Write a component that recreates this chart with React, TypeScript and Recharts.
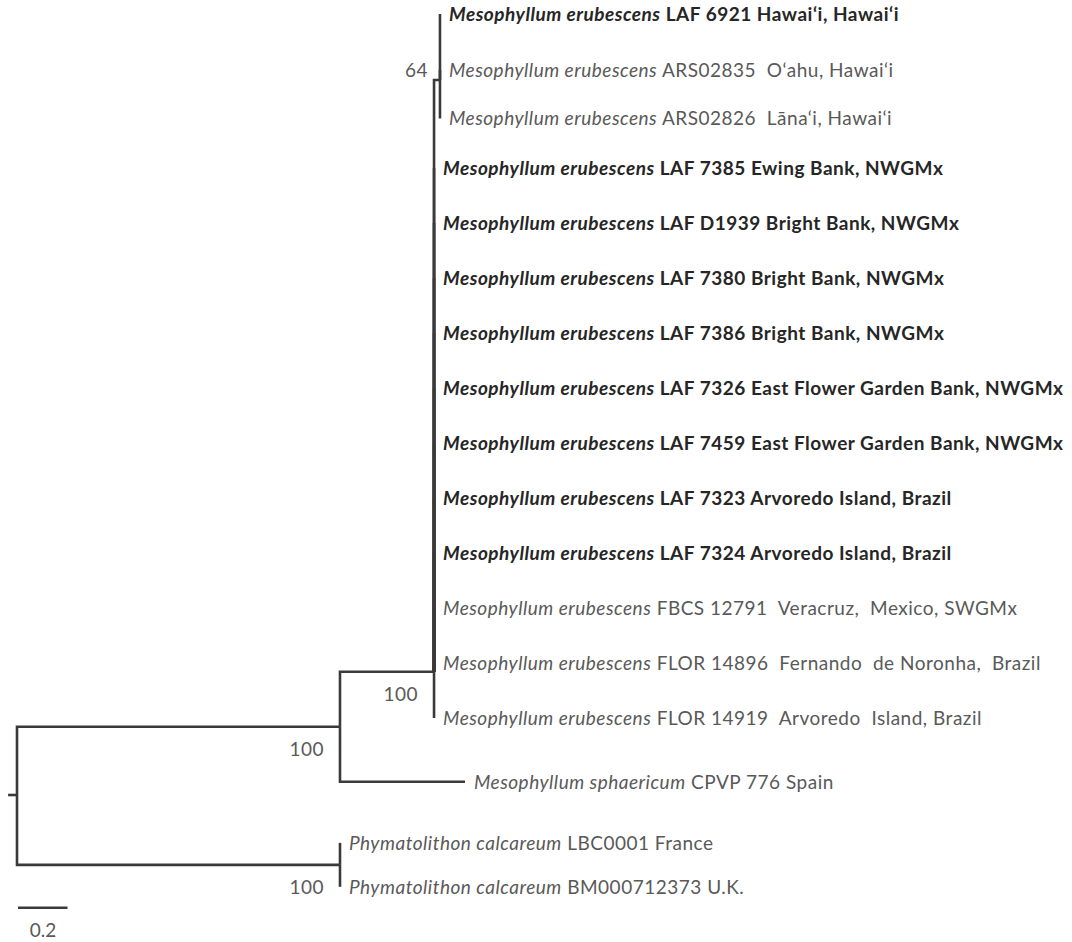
import { ComposedChart, Scatter, XAxis, YAxis } from "recharts";

// tree taxa, top to bottom
const species = [
  "Mesophyllum erubescens",
  "Mesophyllum erubescens",
  "Mesophyllum erubescens",
  "Mesophyllum erubescens",
  "Mesophyllum erubescens",
  "Mesophyllum erubescens",
  "Mesophyllum erubescens",
  "Mesophyllum erubescens",
  "Mesophyllum erubescens",
  "Mesophyllum erubescens",
  "Mesophyllum erubescens",
  "Mesophyllum erubescens",
  "Mesophyllum erubescens",
  "Mesophyllum erubescens",
  "Mesophyllum sphaericum",
  "Phymatolithon calcareum",
  "Phymatolithon calcareum",
];

const vouchers = [
  "LAF 6921 Hawai‘i, Hawai‘i",
  "ARS02835  O‘ahu, Hawai‘i",
  "ARS02826  Lāna‘i, Hawai‘i",
  "LAF 7385 Ewing Bank, NWGMx",
  "LAF D1939 Bright Bank, NWGMx",
  "LAF 7380 Bright Bank, NWGMx",
  "LAF 7386 Bright Bank, NWGMx",
  "LAF 7326 East Flower Garden Bank, NWGMx",
  "LAF 7459 East Flower Garden Bank, NWGMx",
  "LAF 7323 Arvoredo Island, Brazil",
  "LAF 7324 Arvoredo Island, Brazil",
  "FBCS 12791  Veracruz,  Mexico, SWGMx",
  "FLOR 14896  Fernando  de Noronha,  Brazil",
  "FLOR 14919  Arvoredo  Island, Brazil",
  "CPVP 776 Spain",
  "LBC0001 France",
  "BM000712373 U.K.",
];

const newSequence = [
  true, false, false, true, true, true, true, true, true, true, true,
  false, false, false, false, false, false,
];

const tipParent = [
  "hawaii", "hawaii", "hawaii",
  "erub", "erub", "erub", "erub", "erub", "erub", "erub", "erub",
  "erub", "erub", "erub",
  "meso", "phym", "phym",
];

const tipBranch = [0, 0, 0, 0, 0, 0, 0, 0, 0, 0, 0, 0, 0, 0, 0.505, 0, 0];

// vertical position of each taxon, in rows
const tipRow = [0.2, 1.22, 2.1, 3, 4, 5, 6, 7, 8, 9, 10, 11, 12, 13, 14.16, 15.27, 16.07];

// internal nodes
const nodeIds = ["root", "meso", "erub", "hawaii", "phym"];
const nodeParent = [null, "root", "meso", "erub", "root"];
const nodeBranch = [0, 1.305, 0.38, 0.024, 1.305];
const nodeRow = [14.4, 13.16, 12.16, 1.4, 15.67];
const nodeSupport = [null, 100, 100, 64, 100];

const scaleLength = 0.2;
const scaleRow = 16.45;

const ROW_PX = 55;
const TOP_PX = 3;
const UNIT_PX = 247.5;
const LEFT_PX = 17;
const W = 1072;
const H = 942;

const lineColor = "#3a3a3a";
const textGray = "#595959";
const textDark = "#262626";
const font = "Lato, 'Open Sans', sans-serif";
const fontSize = 19;

type Node = { id: string; parent: string | null; depth: number; row: number; support: number | null };

const nodes: Record<string, Node> = {};
nodeIds.forEach((id, i) => {
  const p = nodeParent[i];
  nodes[id] = {
    id,
    parent: p,
    depth: (p ? nodes[p].depth : 0) + nodeBranch[i],
    row: nodeRow[i],
    support: nodeSupport[i],
  };
});

const tips = species.map((s, i) => ({
  x: nodes[tipParent[i]].depth + tipBranch[i],
  y: tipRow[i],
  species: s,
  voucher: vouchers[i],
  bold: newSequence[i],
  parent: tipParent[i],
}));

const edges: { x: number; y: number }[][] = [];
const elbow = (p: Node, x: number, y: number) => [
  { x: p.depth, y: p.row },
  { x: p.depth, y },
  { x, y },
];
nodeIds.forEach((id) => {
  const n = nodes[id];
  if (n.parent) edges.push(elbow(nodes[n.parent], n.depth, n.row));
});
tips.forEach((t) => edges.push(elbow(nodes[t.parent], t.x, t.y)));

const rootStub = [
  { x: -0.036, y: nodes.root.row },
  { x: 0, y: nodes.root.row },
];

const supports = nodeIds
  .map((id) => nodes[id])
  .filter((n) => n.support !== null)
  .map((n) => ({ x: n.depth, y: n.row, support: n.support, above: n.id === "hawaii" }));

const scaleBar = [
  { x: 0.004, y: scaleRow },
  { x: 0.004 + scaleLength, y: scaleRow },
];

const xDomain = [-LEFT_PX / UNIT_PX, (W - LEFT_PX) / UNIT_PX];
const yDomain = [-TOP_PX / ROW_PX, (H - TOP_PX) / ROW_PX];

const Nothing = () => <g />;

const TipLabel = (props: any) => {
  const { cx, cy, payload } = props;
  return (
    <text
      x={cx + 9}
      y={cy}
      dy="0.36em"
      fontFamily={font}
      fontSize={fontSize}
      letterSpacing={0.5}
      fontWeight={payload.bold ? 700 : 400}
      fill={payload.bold ? textDark : textGray}
      style={{ whiteSpace: "pre" }}
    >
      <tspan fontStyle="italic">{payload.species}</tspan>
      <tspan>{" " + payload.voucher}</tspan>
    </text>
  );
};

const SupportLabel = (props: any) => {
  const { cx, cy, payload } = props;
  return (
    <text
      x={cx - (payload.above ? 12 : 16)}
      y={cy + (payload.above ? -10 : 22)}
      dy="0.36em"
      textAnchor="end"
      fontFamily={font}
      fontSize={fontSize}
      letterSpacing={0.5}
      fill={textGray}
    >
      {payload.support}
    </text>
  );
};

const ScaleLabel = (props: any) => {
  const { cx, cy, payload } = props;
  if (payload.x > 0.1) return <g />;
  return (
    <text x={cx + 25} y={cy + 22} dy="0.36em" textAnchor="middle" fontFamily={font} fontSize={fontSize} fill={textGray}>
      {scaleLength}
    </text>
  );
};

export default function App() {
  return (
    <div style={{ position: "absolute", left: 0, top: 0, background: "#fff" }}>
      <ComposedChart width={W} height={H} margin={{ top: 0, right: 0, bottom: 0, left: 0 }}>
        <XAxis type="number" dataKey="x" domain={xDomain} allowDataOverflow hide />
        <YAxis type="number" dataKey="y" domain={yDomain} allowDataOverflow reversed hide />
        {edges.map((e, i) => (
          <Scatter
            key={i}
            data={e}
            line={{ stroke: lineColor, strokeWidth: 2.6 }}
            shape={Nothing}
            isAnimationActive={false}
          />
        ))}
        <Scatter data={rootStub} line={{ stroke: lineColor, strokeWidth: 2.6 }} shape={Nothing} isAnimationActive={false} />
        <Scatter data={scaleBar} line={{ stroke: lineColor, strokeWidth: 2.6 }} shape={ScaleLabel} isAnimationActive={false} />
        <Scatter data={tips} shape={TipLabel} isAnimationActive={false} />
        <Scatter data={supports} shape={SupportLabel} isAnimationActive={false} />
      </ComposedChart>
    </div>
  );
}
